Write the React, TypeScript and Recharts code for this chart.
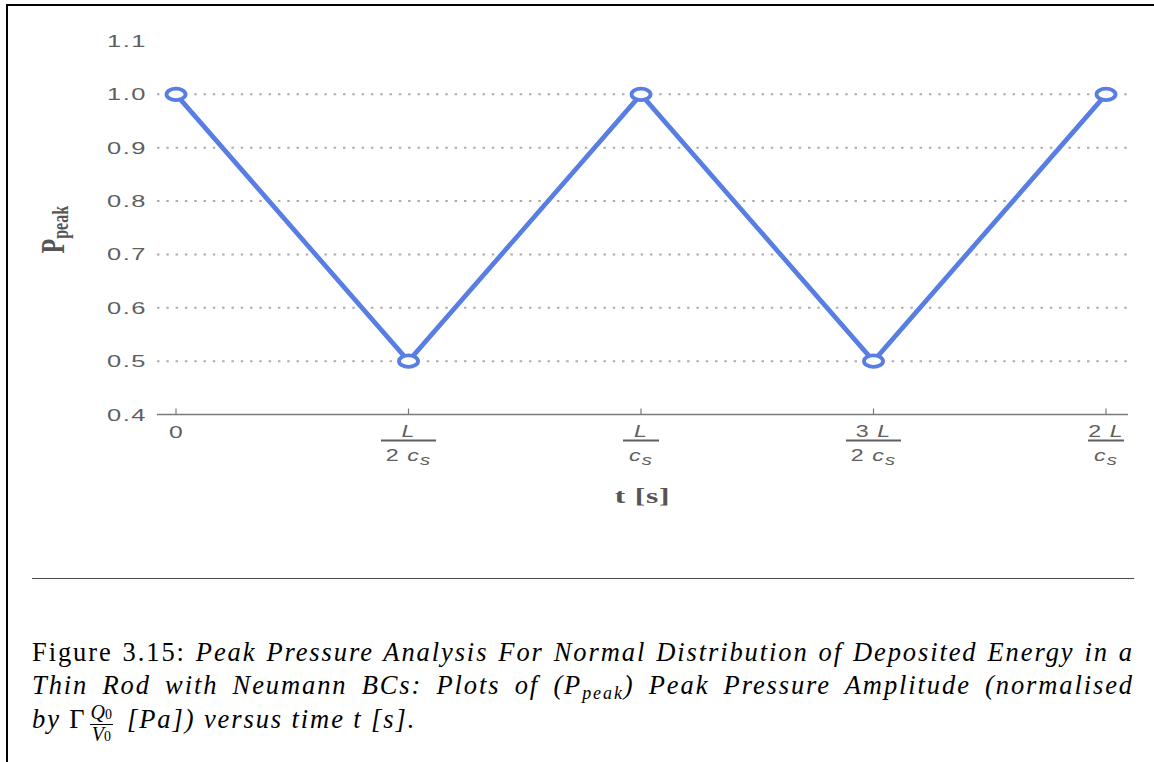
import { LineChart, Line, XAxis, YAxis, CartesianGrid } from 'recharts'

// time in units of L / c_s, peak pressure normalised
const tValues = [0, 0.5, 1, 1.5, 2]
const pPeak = [1.0, 0.5, 1.0, 0.5, 1.0]

const yTicks = [0.4, 0.5, 0.6, 0.7, 0.8, 0.9, 1.0, 1.1]
const gridValues = [0.5, 0.6, 0.7, 0.8, 0.9, 1.0]
const xTicks = [0, 0.5, 1, 1.5, 2]
const xTickNumerators = ['0', 'L', 'L', '3 L', '2 L']
const xTickDenominators = ['', '2 c', 'c', '2 c', 'c']

const data = tValues.map((t, i) => ({ t, p: pPeak[i] }))

const tickColor = '#5f5f5f'
const axisColor = '#7a7a7a'
const lineColor = '#587de3'
const sans = '"Liberation Sans", Arial, sans-serif'
const serif = '"Liberation Serif", "Times New Roman", serif'

const renderParts = (text: string) =>
  text.split(' ').map((part, k) => (
    <tspan key={k} fontStyle={/\d/.test(part) ? 'normal' : 'italic'}>
      {k > 0 ? ' ' : ''}
      {part}
    </tspan>
  ))

const XTick = (props: any) => {
  const { x, y, payload } = props
  const i = xTicks.indexOf(payload.value)
  const num = xTickNumerators[i]
  const den = xTickDenominators[i]
  const barWidth = den.startsWith('2') ? 55 : 36
  return (
    <g>
      <line x1={x} x2={x} y1={y - 6} y2={y} stroke={axisColor} strokeWidth={1.2} />
      {den ? (
        <>
          <g transform={`translate(${x},${y}) scale(1.45,1)`}>
            <text textAnchor="middle" y={22.5} fontSize={16} fill={tickColor} fontFamily={sans} letterSpacing={0.8}>
              {renderParts(num)}
            </text>
            <text textAnchor="middle" y={47} fontSize={16} fill={tickColor} fontFamily={sans} letterSpacing={0.8}>
              {renderParts(den)}
              <tspan fontSize={14} dy={4} fontStyle="italic">s</tspan>
            </text>
          </g>
          <line x1={x - barWidth / 2} x2={x + barWidth / 2} y1={y + 26} y2={y + 26} stroke={tickColor} strokeWidth={2} />
        </>
      ) : (
        <g transform={`translate(${x},${y}) scale(1.5,1)`}>
          <text textAnchor="middle" y={23.5} fontSize={16.5} fill={tickColor} fontFamily={sans}>
            {num}
          </text>
        </g>
      )}
    </g>
  )
}

const YTick = (props: any) => {
  const { x, y, payload } = props
  return (
    <g transform={`translate(${x - 10},${y}) scale(1.5,1)`}>
      <text textAnchor="end" y={6} fontSize={17} fill={tickColor} fontFamily={sans} letterSpacing={1}>
        {Number(payload.value).toFixed(1)}
      </text>
    </g>
  )
}

const XLabel = (props: any) => {
  const vb = props.viewBox
  const cx = vb.x + vb.width / 2
  return (
    <g transform={`translate(${cx},${vb.y + 88.5}) scale(1.5,1)`}>
      <text textAnchor="middle" fontSize={21} fontWeight="bold" fill="#555" fontFamily={serif} letterSpacing={0.5}>
        t [s]
      </text>
    </g>
  )
}

const YLabel = (props: any) => {
  const vb = props.viewBox
  const cy = vb.y + vb.height / 2 + 2
  return (
    <g transform={`translate(${vb.x - 36},${cy}) rotate(-90) scale(1,1.4)`}>
      <text textAnchor="middle" fontSize={24} fontWeight="bold" fill="#555" fontFamily={serif}>
        P
        <tspan fontSize={16} dy={3}>peak</tspan>
      </text>
    </g>
  )
}

const OpenDot = (props: any) => {
  const { cx, cy, index } = props
  return (
    <ellipse
      key={`dot-${index}`}
      cx={cx}
      cy={cy}
      rx={9.5}
      ry={5.8}
      fill="#fff"
      stroke={lineColor}
      strokeWidth={3.8}
    />
  )
}

const App = () => {
  return (
    <div style={{ position: 'absolute', left: 0, top: 0, width: 1154, height: 762, background: '#fff', overflow: 'hidden' }}>
      {/* page frame */}
      <div
        style={{
          position: 'absolute',
          left: 6,
          top: 4,
          width: 1160,
          height: 780,
          borderTop: '2px solid #000',
          borderLeft: '2px solid #000',
        }}
      />

      <div style={{ position: 'absolute', left: 0, top: 0 }}>
        <LineChart
          width={1154}
          height={520}
          data={data}
          margin={{ top: 41, right: 26, bottom: 45.5, left: 100 }}
        >
          <CartesianGrid
            vertical={false}
            horizontalValues={gridValues}
            stroke="#adadad"
            strokeWidth={2}
            strokeDasharray="2.5 6.8"
          />
          <XAxis
            dataKey="t"
            type="number"
            domain={[0, 2]}
            ticks={xTicks}
            padding={{ left: 19, right: 22 }}
            height={60}
            axisLine={{ stroke: axisColor, strokeWidth: 1.5 }}
            tickLine={false}
            tickSize={0}
            tickMargin={0}
            tick={<XTick />}
            interval={0}
            label={XLabel}
          />
          <YAxis
            type="number"
            domain={[0.4, 1.1]}
            ticks={yTicks}
            width={57}
            axisLine={false}
            tickLine={false}
            tickSize={0}
            tickMargin={0}
            tick={<YTick />}
            interval={0}
            label={YLabel}
          />
          <Line
            type="linear"
            dataKey="p"
            stroke={lineColor}
            strokeWidth={4.7}
            dot={OpenDot}
            activeDot={false}
            isAnimationActive={false}
          />
        </LineChart>
      </div>

      {/* caption rule */}
      <div style={{ position: 'absolute', left: 32, top: 578, width: 1102, borderTop: '1.5px solid #4a4a4a' }} />

      <div
        style={{
          position: 'absolute',
          left: 32,
          top: 635.5,
          width: 1102,
          fontFamily: serif,
          fontSize: 26.5,
          lineHeight: '33.5px',
          color: '#000',
          letterSpacing: 1.9,
          whiteSpace: 'nowrap',
        }}
      >
        <div style={{ textAlign: 'justify', textAlignLast: 'justify' }}>
          Figure 3.15: <i>Peak Pressure Analysis For Normal Distribution of Deposited Energy in a</i>
        </div>
        <div style={{ textAlign: 'justify', textAlignLast: 'justify' }}>
          <i>
            Thin Rod with Neumann BCs: Plots of (P
            <span style={{ fontSize: 18, lineHeight: 0, verticalAlign: -5 }}>peak</span>) Peak Pressure Amplitude (normalised
          </i>
        </div>
        <div>
          <i>by</i> Γ
          <span
            style={{
              display: 'inline-flex',
              flexDirection: 'column',
              alignItems: 'center',
              verticalAlign: 9,
              fontSize: 20,
              lineHeight: '17px',
              margin: '0 14px 0 3px',
              letterSpacing: 0,
            }}
          >
            <span style={{ borderBottom: '1px solid #000', padding: '0 1px 1px' }}>
              <i>Q</i>
              <span style={{ fontSize: 14 }}>0</span>
            </span>
            <span style={{ paddingTop: 1 }}>
              <i>V</i>
              <span style={{ fontSize: 14 }}>0</span>
            </span>
          </span>
          <i>[Pa]) versus time t [s].</i>
        </div>
      </div>
    </div>
  )
}

export default App
